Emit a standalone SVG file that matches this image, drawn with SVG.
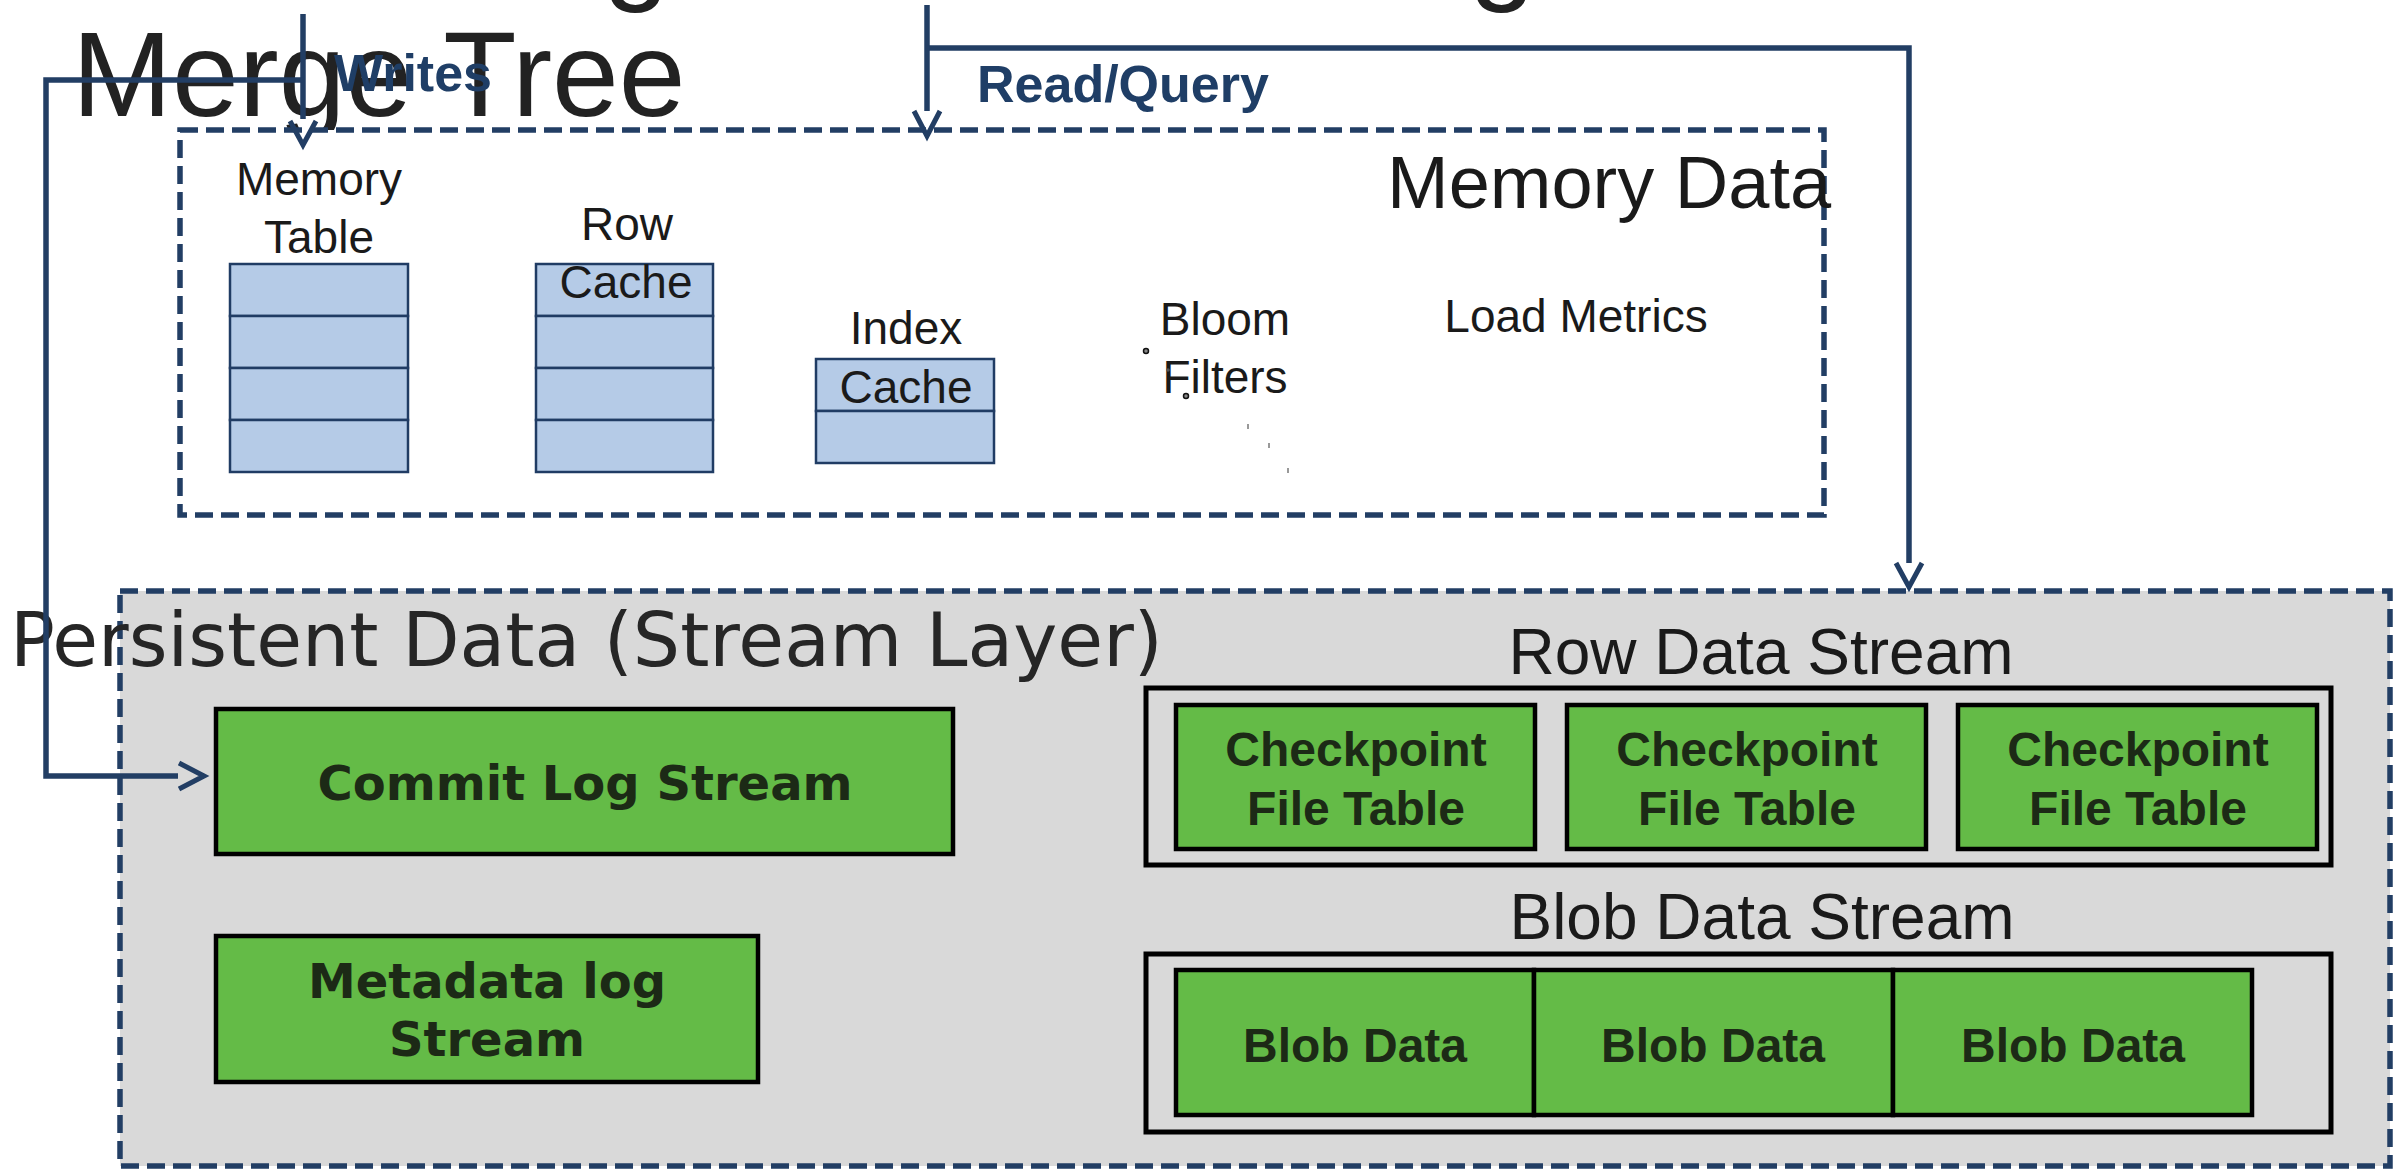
<svg xmlns="http://www.w3.org/2000/svg" width="2402" height="1170" viewBox="0 0 2402 1170">
<style>
.conn{fill:none;stroke:#223e64;stroke-width:5.5;stroke-linecap:butt;stroke-linejoin:miter}
.head{fill:none;stroke:#223e64;stroke-width:5}
.dash{stroke:#223e64;stroke-width:5.5;stroke-dasharray:18 8}
.cell{fill:#b5cbe7;stroke:#203c64;stroke-width:2.5}
.lbl{font-family:"Liberation Sans",Arial,sans-serif;font-size:46px;fill:#1a1a1a;text-anchor:middle}
.green{fill:#64bb47;stroke:#000;stroke-width:4.5}
.outer{fill:none;stroke:#000;stroke-width:5}
.bt{font-family:"Liberation Sans",Arial,sans-serif;font-weight:bold;font-size:48px;fill:#1c2a16;text-anchor:middle}
.dbt{font-family:"DejaVu Sans",sans-serif;font-weight:bold;font-size:48px;fill:#1c2a16;text-anchor:middle}
.blue{font-family:"Liberation Sans",Arial,sans-serif;font-weight:bold;font-size:52px;fill:#1f3e66}
</style>
<rect x="0" y="0" width="2402" height="1170" fill="#ffffff"/>
<g id="title">
<text x="603" y="-12" font-family="Liberation Sans, Arial, sans-serif" font-size="120" fill="#222">g</text>
<text x="1469" y="-12" font-family="Liberation Sans, Arial, sans-serif" font-size="120" fill="#222">g</text>
<text x="72" y="116" font-family="Liberation Sans, Arial, sans-serif" font-size="120" fill="#222">Merge Tree</text>
</g>
<g id="memory-data">
<rect class="dash" x="180" y="130" width="1644" height="385" fill="#ffffff"/>
<text x="1387" y="208" font-family="Liberation Sans, Arial, sans-serif" font-size="74" fill="#1a1a1a">Memory Data</text>
</g>
<g id="memory-table">
<text class="lbl" x="319" y="195">Memory</text>
<text class="lbl" x="319" y="253">Table</text>
<rect class="cell" x="230" y="264" width="178" height="52"/>
<rect class="cell" x="230" y="316" width="178" height="52"/>
<rect class="cell" x="230" y="368" width="178" height="52"/>
<rect class="cell" x="230" y="420" width="178" height="52"/>
</g>
<g id="row-cache">
<rect class="cell" x="536" y="264" width="177" height="52"/>
<rect class="cell" x="536" y="316" width="177" height="52"/>
<rect class="cell" x="536" y="368" width="177" height="52"/>
<rect class="cell" x="536" y="420" width="177" height="52"/>
<text class="lbl" x="627" y="240">Row</text>
<text class="lbl" x="626" y="298">Cache</text>
</g>
<g id="index-cache">
<rect class="cell" x="816" y="359" width="178" height="52"/>
<rect class="cell" x="816" y="411" width="178" height="52"/>
<text class="lbl" x="906" y="344">Index</text>
<text class="lbl" x="906" y="403">Cache</text>
</g>
<g id="bloom-filters">
<text class="lbl" x="1225" y="335">Bloom</text>
<text class="lbl" x="1225" y="393">Filters</text>
<circle cx="1146" cy="351" r="2.5" fill="#888" stroke="#111" stroke-width="1.5"/>
<circle cx="1168" cy="370" r="1.8" fill="#555"/>
<circle cx="1186" cy="396" r="2.5" fill="#888" stroke="#111" stroke-width="1.5"/>
<line x1="1248" y1="424" x2="1248" y2="429" stroke="#777" stroke-width="1.5"/>
<line x1="1269" y1="443" x2="1269" y2="448" stroke="#777" stroke-width="1.5"/>
<line x1="1288" y1="468" x2="1288" y2="473" stroke="#777" stroke-width="1.5"/>
</g>
<g id="load-metrics">
<text class="lbl" x="1576" y="332">Load Metrics</text>
</g>
<g id="persistent-data">
<rect class="dash" x="120" y="591" width="2270" height="575" fill="#d9d9d9"/>
<text x="10" y="666" font-family="DejaVu Sans, sans-serif" font-size="74.5" fill="#262626">Persistent Data (Stream Layer)</text>
</g>
<g id="commit-log-stream">
<rect class="green" x="216" y="709" width="737" height="145"/>
<text class="dbt" x="585" y="800" font-size="48.5">Commit Log Stream</text>
</g>
<g id="metadata-log-stream">
<rect class="green" x="216" y="936" width="542" height="146"/>
<text class="dbt" x="487" y="998">Metadata log</text>
<text class="dbt" x="487" y="1056">Stream</text>
</g>
<g id="row-data-stream">
<text x="1761" y="674" font-family="Liberation Sans, Arial, sans-serif" font-size="64" fill="#1a1a1a" text-anchor="middle">Row Data Stream</text>
<rect class="outer" x="1146" y="688" width="1185" height="177"/>
</g>
<g id="checkpoint-1">
<rect class="green" x="1176" y="705" width="359" height="144"/>
<text class="bt" x="1356" y="766">Checkpoint</text>
<text class="bt" x="1356" y="825">File Table</text>
</g>
<g id="checkpoint-2">
<rect class="green" x="1567" y="705" width="359" height="144"/>
<text class="bt" x="1747" y="766">Checkpoint</text>
<text class="bt" x="1747" y="825">File Table</text>
</g>
<g id="checkpoint-3">
<rect class="green" x="1958" y="705" width="359" height="144"/>
<text class="bt" x="2138" y="766">Checkpoint</text>
<text class="bt" x="2138" y="825">File Table</text>
</g>
<g id="blob-data-stream">
<text x="1762" y="939" font-family="Liberation Sans, Arial, sans-serif" font-size="64" fill="#1a1a1a" text-anchor="middle">Blob Data Stream</text>
<rect class="outer" x="1146" y="954" width="1185" height="178"/>
</g>
<g id="blob-data-1">
<rect class="green" x="1176" y="970" width="358" height="145"/>
<text class="bt" x="1355" y="1062">Blob Data</text>
</g>
<g id="blob-data-2">
<rect class="green" x="1534" y="970" width="359" height="145"/>
<text class="bt" x="1713" y="1062">Blob Data</text>
</g>
<g id="blob-data-3">
<rect class="green" x="1893" y="970" width="359" height="145"/>
<text class="bt" x="2073" y="1062">Blob Data</text>
</g>
<g id="connectors">
<path class="conn" d="M303 14 V119"/>
<path class="head" d="M290 121 L303 145 L316 121"/>
<path class="conn" d="M303 80 H46 V776 H178"/>
<path class="head" d="M179 763 L204 776 L179 789"/>
<path class="conn" d="M927 5 V111"/>
<path class="head" d="M914 111 L927 136 L940 111"/>
<path class="conn" d="M927 48 H1909 V563"/>
<path class="head" d="M1896 563 L1909 587 L1922 563"/>
<text class="blue" x="334" y="91">Writes</text>
<text class="blue" x="977" y="102">Read/Query</text>
</g>
</svg>
